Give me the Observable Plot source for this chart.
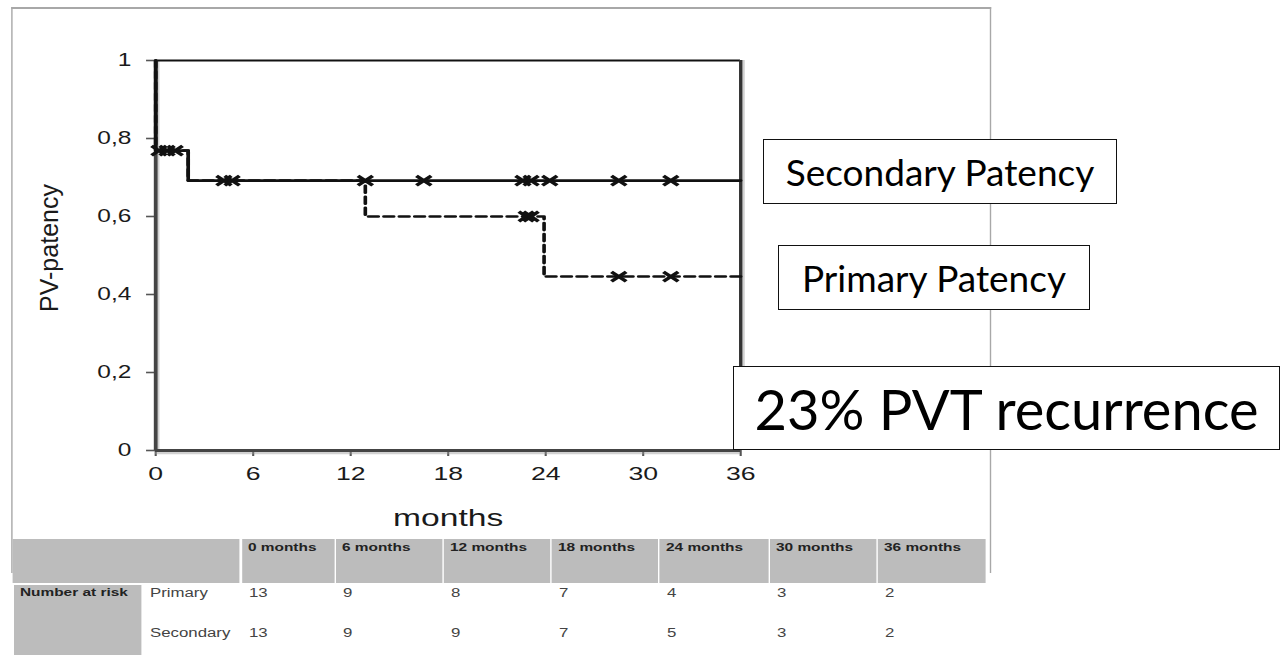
<!DOCTYPE html>
<html><head><meta charset="utf-8">
<script src="https://cdn.jsdelivr.net/npm/d3@7"></script>
<script src="https://cdn.jsdelivr.net/npm/@observablehq/plot@0.6"></script>
<style>
html,body{margin:0;padding:0;background:#fff;overflow:hidden;width:1281px;height:655px;}
#stretch{position:absolute;left:0;top:0;width:715px;height:655px;transform:scaleX(1.4);transform-origin:0 0;font-family:"Liberation Sans",Arial,sans-serif;}
#stretch svg{position:absolute;left:0;top:0;}
.frame{position:absolute;border-style:solid;border-color:#a8a8a8;border-width:2px 1.5px 0 1.5px;box-sizing:border-box;}
.cell{position:absolute;background:#bcbcbc;}
.t{position:absolute;white-space:nowrap;line-height:1;}
.box{position:absolute;border:1.5px solid #111;background:#fff;box-sizing:border-box;display:flex;align-items:center;justify-content:center;font-family:Lato,sans-serif;color:#000;white-space:nowrap;}
</style></head><body>
<div id="stretch"></div>
<script>
// ---- data ----
const xTicks = [0, 6, 12, 18, 24, 30, 36];
const yTicks = [0, 0.2, 0.4, 0.6, 0.8, 1];
const yTickLabels = ["0", "0,2", "0,4", "0,6", "0,8", "1"];

const secondaryTime = [0, 0, 2, 36];
const secondarySurv = [1, 0.769, 0.692, 0.692];
const primaryTime = [0, 0, 2, 12.9, 23.9, 36];
const primarySurv = [1, 0.769, 0.692, 0.6, 0.446, 0.446];

const secondaryCensorTime = [0.2, 0.7, 1.2, 4.2, 4.7, 12.9, 16.5, 22.6, 23.1, 24.25, 28.5, 31.7];
const secondaryCensorSurv = [0.769, 0.769, 0.769, 0.692, 0.692, 0.692, 0.692, 0.692, 0.692, 0.692, 0.692, 0.692];
const primaryCensorTime = [22.8, 23.1, 28.5, 31.7];
const primaryCensorSurv = [0.6, 0.6, 0.446, 0.446];

const riskTimes = ["0 months", "6 months", "12 months", "18 months", "24 months", "30 months", "36 months"];
const riskRowLabels = ["Primary", "Secondary"];
const riskPrimary = [13, 9, 8, 7, 4, 3, 2];
const riskSecondary = [13, 9, 9, 7, 5, 3, 2];

const boxLabels = ["Secondary Patency", "Primary Patency", "23% PVT recurrence"];

// ---- build ----
const S = 1.4;
const W = 715, H = 500;
const toRows = (T, V) => T.map((t, i) => ({t, s: V[i]}));
const secondary = toRows(secondaryTime, secondarySurv);
const primary = toRows(primaryTime, primarySurv);
const censors = toRows(secondaryCensorTime.concat(primaryCensorTime), secondaryCensorSurv.concat(primaryCensorSurv));

const flatTimes = {draw(ctx, size) {
  const r = Math.sqrt(size) / 2, rx = r * 1.1;
  ctx.moveTo(-rx, -r); ctx.lineTo(rx, r);
  ctx.moveTo(-rx, r); ctx.lineTo(rx, -r);
}};

const plot = Plot.plot({
  width: W, height: H,
  marginLeft: 155 / S, marginRight: W - 740 / S, marginTop: 60, marginBottom: 50,
  x: {domain: [0, 36], label: null},
  y: {domain: [0, 1], label: null},
  style: {fontFamily: '"Liberation Sans", Arial, sans-serif', background: "transparent", overflow: "visible"},
  marks: [
    Plot.axisY({ticks: yTicks, tickFormat: d => yTickLabels[yTicks.indexOf(d)], tickSize: 6.4, tickPadding: 11,
      fontSize: 17.5, stroke: "#555", strokeWidth: 1.6, fill: "#1a1a1a", label: null}),
    Plot.axisX({ticks: xTicks, tickSize: 6, tickPadding: 10, fontSize: 19, stroke: "#555", strokeWidth: 1.5,
      fill: "#1a1a1a", label: null}),
    Plot.text(["months"], {text: d => d, frameAnchor: "bottom", lineAnchor: "middle", textAnchor: "middle", dy: 68, fontSize: 24, fill: "#1a1a1a"}),
    Plot.text(["PV-patency"], {text: d => d, frameAnchor: "left", lineAnchor: "middle", textAnchor: "middle", rotate: -90, dx: -75.7, dy: -7.5, fontSize: 25, fill: "#1a1a1a"}),
    // shadows
    Plot.ruleX([0], {y1: 0, y2: 1, stroke: "#999", strokeOpacity: 0.45, strokeWidth: 2, dx: 1.7}),
    Plot.ruleX([36], {y1: 0, y2: 1, stroke: "#999", strokeOpacity: 0.45, strokeWidth: 2, dx: 1.9}),
    Plot.ruleY([0], {x1: 0, x2: 36, stroke: "#999", strokeOpacity: 0.45, strokeWidth: 2.5, dy: 2.6}),
    // frame + axes
    Plot.ruleY([1], {x1: 0, x2: 36, stroke: "#111", strokeWidth: 2.2}),
    Plot.ruleX([36], {y1: 0, y2: 1, stroke: "#333", strokeWidth: 2.4}),
    Plot.ruleX([0], {y1: 0, y2: 1, stroke: "#444", strokeWidth: 2.7}),
    Plot.ruleY([0], {x1: 0, x2: 36, stroke: "#444", strokeWidth: 3.2}),
    // curves
    Plot.line(primary, {x: "t", y: "s", curve: "step-after", stroke: "#111", strokeWidth: 2.6, strokeDasharray: "7,4"}),
    Plot.line(secondary, {x: "t", y: "s", curve: "step-after", stroke: "#111", strokeWidth: 2.6}),
    Plot.dot(censors, {x: "t", y: "s", symbol: flatTimes, r: 5.4, stroke: "#111", strokeWidth: 3})
  ]
});

const st = document.getElementById("stretch");
function el(parent, cls, css, text) {
  const d = document.createElement("div");
  d.className = cls; Object.assign(d.style, css);
  if (text != null) d.textContent = text;
  parent.appendChild(d); return d;
}
const X = f => (f / S) + "px";

el(st, "frame", {left: X(11), top: "7px", width: X(991 - 11), height: "566px"});
st.appendChild(plot);
plot.querySelectorAll("text").forEach(t => {
  if (t.textContent === "PV-patency") t.setAttribute("transform", (t.getAttribute("transform") || "") + " scale(1,0.7143)");
});

// number-at-risk table
const colLeft = [242, 336, 444, 552, 660, 770, 878];
const colRight = [334, 442, 550, 658, 768, 876, 986];
el(st, "cell", {left: X(12), top: "539px", width: X(228), height: "44px"});
riskTimes.forEach((lab, i) => {
  el(st, "cell", {left: X(colLeft[i]), top: "539px", width: X(colRight[i] - colLeft[i]), height: "44px"});
  el(st, "t", {left: X(colLeft[i] + 6), top: "542px", fontSize: "11px", fontWeight: "bold", color: "#222"}, lab);
});
el(st, "cell", {left: X(14), top: "585px", width: X(127), height: "70px"});
el(st, "t", {left: X(20), top: "587px", fontSize: "11px", fontWeight: "bold", color: "#222"}, "Number at risk");
const rowTops = [587, 627];
[riskPrimary, riskSecondary].forEach((vals, r) => {
  el(st, "t", {left: X(150), top: rowTops[r] + "px", fontSize: "12px", color: "#444"}, riskRowLabels[r]);
  vals.forEach((v, i) => el(st, "t", {left: X(colLeft[i] + 7), top: rowTops[r] + "px", fontSize: "12px", color: "#444"}, String(v)));
});

// annotation boxes (not stretched)
const boxGeo = [[763, 139, 354, 65, 37], [778, 245, 312, 65, 37], [733, 366, 547, 84, 56]];
boxLabels.forEach((lab, i) => {
  const [l, t, w, h, fs] = boxGeo[i];
  el(document.body, "box", {left: l + "px", top: t + "px", width: w + "px", height: h + "px", fontSize: fs + "px"}, lab);
});
</script>
</body></html>
